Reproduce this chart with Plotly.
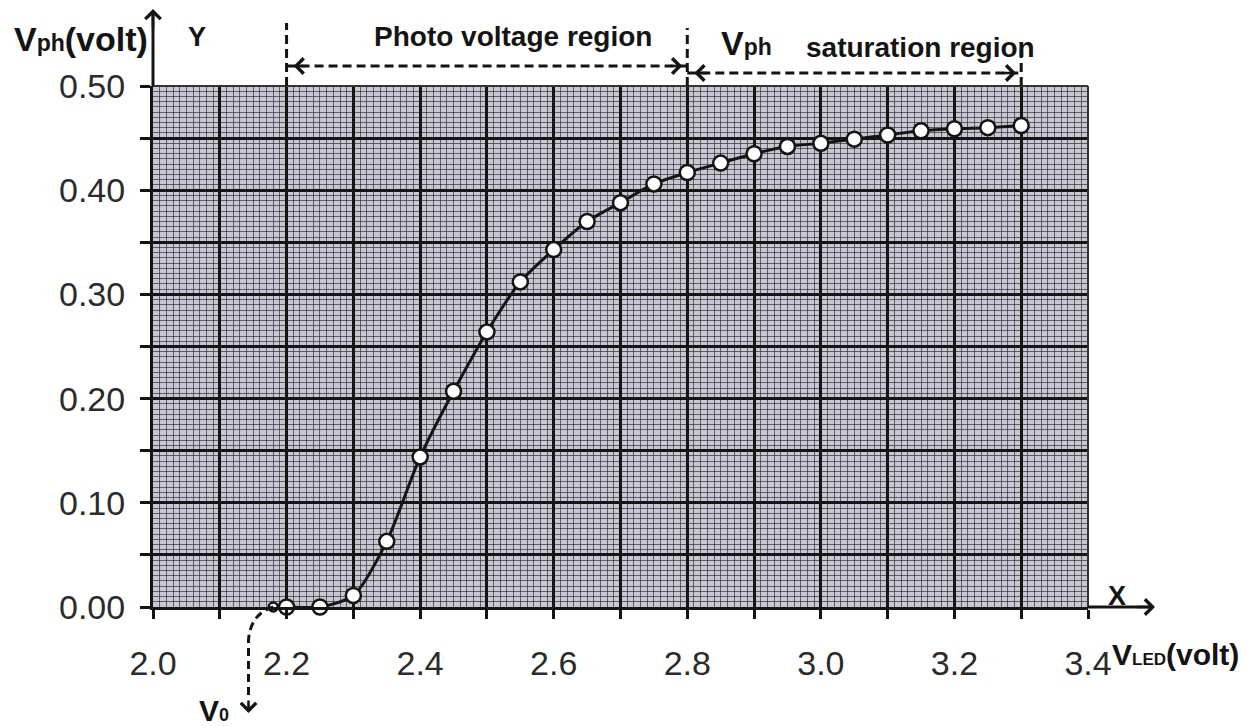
import plotly.graph_objects as go

# ---------------- data ----------------
v_led = [2.18, 2.20, 2.25, 2.30, 2.35, 2.40, 2.45, 2.50, 2.55, 2.60, 2.65, 2.70,
         2.75, 2.80, 2.85, 2.90, 2.95, 3.00, 3.05, 3.10, 3.15, 3.20, 3.25, 3.30]
v_ph = [0.000, 0.000, 0.000, 0.011, 0.063, 0.144, 0.207, 0.264, 0.312, 0.343, 0.370, 0.388,
        0.406, 0.417, 0.426, 0.435, 0.442, 0.445, 0.449, 0.453, 0.457, 0.459, 0.460, 0.462]

x_ticks = [2.0, 2.1, 2.2, 2.3, 2.4, 2.5, 2.6, 2.7, 2.8, 2.9, 3.0, 3.1, 3.2, 3.3, 3.4]
x_labels = ["2.0", "", "2.2", "", "2.4", "", "2.6", "", "2.8", "", "3.0", "", "3.2", "", "3.4"]
y_ticks = [0.00, 0.05, 0.10, 0.15, 0.20, 0.25, 0.30, 0.35, 0.40, 0.45, 0.50]
y_labels = ["0.00", "", "0.10", "", "0.20", "", "0.30", "", "0.40", "", "0.50"]

region_bounds = [2.2, 2.8, 3.3]   # photo-voltage region 2.2-2.8, saturation 2.8-3.3
v0_value = 2.143                   # where the V0 arrow points

# ---------------- geometry (page body has an 8px margin) ----------------
OFF = 8
W, H = 1247 - OFF, 726 - OFF
PL, PR, PT, PB = 153, 1088, 86, 607        # plot edges in window pixels
ML, MR, MT, MB = PL - OFF, (W + OFF) - PR, PT - OFF, (H + OFF) - PB
PW, PH = PR - PL, PB - PT


def py(p):  # window pixel row -> paper y
    return (PB - p) / PH


def px(p):  # window pixel column -> paper x
    return (p - PL) / PW


INK = "#141414"
SANS = "Liberation Sans, Arial, sans-serif"

sizes = [9] + [15] * (len(v_led) - 1)

fig = go.Figure()
fig.add_trace(go.Scatter(
    x=v_led, y=v_ph, mode="lines+markers",
    line=dict(color=INK, width=3, shape="spline", smoothing=0.7),
    marker=dict(size=sizes, color="#ffffff", opacity=1, line=dict(color=INK, width=2.5)),
    cliponaxis=False, showlegend=False, hoverinfo="skip"))

axis_common = dict(
    showline=True, linewidth=3, linecolor=INK,
    ticks="outside", tickwidth=3, tickcolor=INK,
    showgrid=True, gridcolor=INK, gridwidth=3,
    zeroline=False, tickmode="array",
    tickfont=dict(family=SANS, size=34, color="#2b2b2b"),
)
minor_grid = dict(tickmode="linear", showgrid=True, gridcolor="rgba(25,25,35,0.6)", gridwidth=1)

fig.update_layout(
    width=W, height=H,
    margin=dict(l=ML, r=MR, t=MT, b=MB, autoexpand=False),
    paper_bgcolor="white", plot_bgcolor="#c7c6d1",
    showlegend=False,
    xaxis=dict(axis_common, range=[2.0, 3.4], tickvals=x_ticks, ticktext=x_labels,
               ticklen=9, ticklabelstandoff=15,
               minor=dict(minor_grid, tick0=2.0, dtick=0.01)),
    yaxis=dict(axis_common, range=[0, 0.5], tickvals=y_ticks, ticktext=y_labels,
               ticklen=10, ticklabelstandoff=8,
               minor=dict(minor_grid, tick0=0, dtick=0.005)),
)

shapes = []
# thin top and right edges of the graph paper
shapes.append(dict(type="line", xref="paper", yref="paper", x0=0, x1=1, y0=1, y1=1,
                   line=dict(color="#333", width=2)))
shapes.append(dict(type="line", xref="paper", yref="paper", x0=1, x1=1, y0=0, y1=1,
                   line=dict(color="#333", width=2)))
# x axis extension towards arrow, y axis extension upward
shapes.append(dict(type="line", xref="paper", yref="paper", x0=0, x1=0, y0=1, y1=py(14),
                   line=dict(color=INK, width=3)))
shapes.append(dict(type="line", xref="paper", yref="paper", x0=1, x1=px(1150), y0=0, y1=0,
                   line=dict(color=INK, width=3)))
# dashed region boundaries above the plot
tops = [23, 28, 46]
for xb, t in zip(region_bounds, tops):
    shapes.append(dict(type="line", xref="x", yref="paper", x0=xb, x1=xb, y0=1, y1=py(t),
                       line=dict(color=INK, width=3, dash="9px,5px")))
# dashed double arrows
arrow_rows = [66, 73]
pairs = [(region_bounds[0], region_bounds[1]), (region_bounds[1], region_bounds[2])]
for (a, b), r in zip(pairs, arrow_rows):
    shapes.append(dict(type="line", xref="x", yref="paper", x0=a, x1=b, y0=py(r), y1=py(r),
                       line=dict(color=INK, width=3, dash="9px,5px")))
# dashed V0 curve
p0 = py(PB)
shapes.append(dict(type="path", xref="x", yref="paper",
                   path=f"M {v_led[0]},{p0} Q {v0_value + 0.003},{py(614)} {v0_value},{py(640)} L {v0_value},{py(700)}",
                   line=dict(color=INK, width=3, dash="8px,5px")))
fig.update_layout(shapes=shapes)

ann = []


def head(x, y, ax, ay, xref="paper", xshift=0):
    ann.append(dict(x=x, y=y, xref=xref, yref="paper", ax=ax, ay=ay, text="",
                    showarrow=True, arrowhead=4, arrowsize=1.15, arrowwidth=2.6,
                    arrowcolor=INK, standoff=0, xshift=xshift))


head(0, py(9), 0, 20)                        # Y axis arrow
head(px(1155), 0, -20, 0)                    # X axis arrow
for (a, b), r in zip(pairs, arrow_rows):
    head(a, py(r), 14, 0, xref="x", xshift=7)
    head(b, py(r), -14, 0, xref="x", xshift=-5)
head(v0_value, py(713), 0, -14, xref="x")


def label(text, x, y, size, xanchor="center", xref="paper", xshift=0, color=INK):
    ann.append(dict(x=x, y=y, xref=xref, yref="paper", text=text, showarrow=False,
                    xanchor=xanchor, yanchor="middle", xshift=xshift,
                    font=dict(family=SANS, size=size, color=color)))


label("<b>V<span style='font-size:23px'>ph</span>(volt)</b>", px(12), py(39), 34, xanchor="left")
label("<b>Y</b>", px(197), py(37), 27)
label("<b>Photo voltage region</b>", px(513), py(36), 28)
label("<b>V<span style='font-size:23px'>ph</span></b>", px(719), py(43), 34, xanchor="left")
label("<b>saturation region</b>", px(804), py(48), 28, xanchor="left")
label("<b>X</b>", px(1117), py(596), 27)
label("<b>V<span style='font-size:17px'>LED</span>(volt)</b>", px(1110), py(654), 30, xanchor="left")
label("<b>V<span style='font-size:18px'>0</span></b>", px(214), py(710), 30)
fig.update_layout(annotations=ann)

fig.write_html("out.html")
